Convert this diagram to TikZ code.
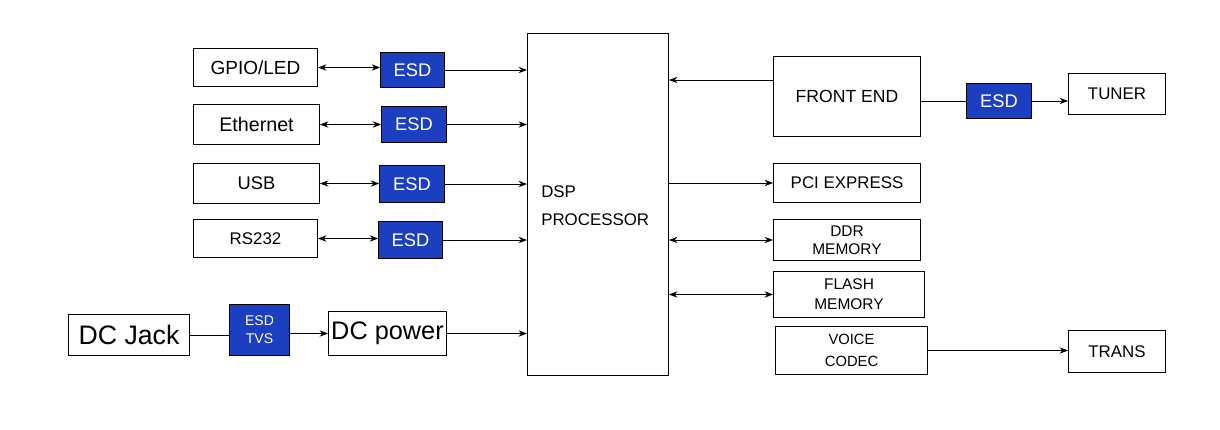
\documentclass[tikz,border=0pt]{standalone}
\usepackage{fontspec}
\setmainfont{Liberation Sans}
\usetikzlibrary{arrows.meta}
\definecolor{esdblue}{HTML}{1C3FC0}
\begin{document}
\begin{tikzpicture}[x=0.025cm,y=-0.025cm,
  box/.style={draw,line width=0.8pt,inner sep=0pt,align=center},
  esd/.style={draw=black,line width=0.6pt,fill=esdblue,text=white,inner sep=0pt,align=center},
  fs/.style={font=\fontsize{#1pt}{#1pt}\selectfont},
  arr/.style={-{Stealth[length=6pt,width=4.5pt]},line width=0.6pt},
  darr/.style={{Stealth[length=6pt,width=4.5pt]}-{Stealth[length=6pt,width=4.5pt]},line width=0.6pt}]
\useasboundingbox (0,0) rectangle (1220,429);
\newcommand{\bx}[7]{\node[#1,fs=#7,minimum width=#4*0.025cm-0.8pt,minimum height=#5*0.025cm-0.8pt] (#2) at (#3) {#6};}
\bx{box}{gpio}{255.5,67.5}{125}{39}{GPIO/LED}{13.5}
\bx{box}{eth}{256.5,124.5}{127}{41}{Ethernet}{14}
\bx{box}{usb}{256.5,183.5}{127}{41}{USB}{13}
\bx{box}{rs}{255.5,238.5}{125}{39}{RS232}{12}
\bx{esd}{e1}{412.5,70}{65}{36}{ESD}{13}
\bx{esd}{e2}{414,124.5}{66}{37}{ESD}{13}
\bx{esd}{e3}{412,184}{66}{38}{ESD}{13}
\bx{esd}{e4}{410.5,240}{65}{38}{ESD}{13}
\bx{box}{dcj}{129,335}{122}{42}{DC Jack}{19}
\node[esd,fs=10,minimum width=61*0.025cm-0.6pt,minimum height=52*0.025cm-0.6pt,align=center] (tvs) at (259.5,330) {ESD\\[3pt]TVS};
\bx{box}{dcp}{387.5,333.5}{119}{45}{DC power}{18}
\node[box,minimum width=142*0.025cm-0.8pt,minimum height=343*0.025cm-0.8pt] (dsp) at (598,204.5) {};
\node[fs=12,align=left,anchor=west,inner sep=0pt] (dspt) at (541,206) {DSP\\[8pt]PROCESSOR};
\bx{box}{fe}{847,96.5}{148}{81}{FRONT END}{12.5}
\bx{esd}{e5}{999,101}{66}{36}{ESD}{13}
\bx{box}{tun}{1117,94}{98}{42}{TUNER}{12}
\bx{box}{pci}{847,183}{148}{40}{PCI EXPRESS}{12}
\node[box,fs=11,minimum width=148*0.025cm-0.8pt,minimum height=42*0.025cm-0.8pt] (ddr) at (847,240) {DDR\\[2pt]MEMORY};
\node[box,fs=11,minimum width=152*0.025cm-0.8pt,minimum height=47*0.025cm-0.8pt] (fl) at (849,294.5) {FLASH\\[3pt]MEMORY};
\node[box,fs=10.5,minimum width=153*0.025cm-0.8pt,minimum height=49*0.025cm-0.8pt] (vc) at (851.5,350.5) {VOICE\\[5pt]CODEC};
\bx{box}{tr}{1117,351.5}{98}{43}{TRANS}{12}
\foreach \a/\b in {gpio/e1,eth/e2,usb/e3,rs/e4}{
  \draw[darr] (\a.east) -- (\b.west|-\a.east);
  \draw[arr] (\b.east) -- (dsp.west|-\b.east);}
\draw[arr] (fe.west|-0,80) -- (dsp.east|-0,80);
\draw[line width=0.6pt] (fe.east|-e5) -- (e5.west);
\draw[arr] (e5.east) -- (tun.west|-e5.east);
\draw[arr] (dsp.east|-pci) -- (pci.west);
\draw[darr] (dsp.east|-ddr) -- (ddr.west);
\draw[darr] (dsp.east|-fl) -- (fl.west);
\draw[arr] (vc.east) -- (tr.west|-vc.east);
\draw[line width=0.6pt] (dcj.east) -- (tvs.west|-dcj.east);
\draw[arr] (tvs.east|-dcp) -- (dcp.west);
\draw[arr] (dcp.east) -- (dsp.west|-dcp.east);
\end{tikzpicture}
\end{document}
